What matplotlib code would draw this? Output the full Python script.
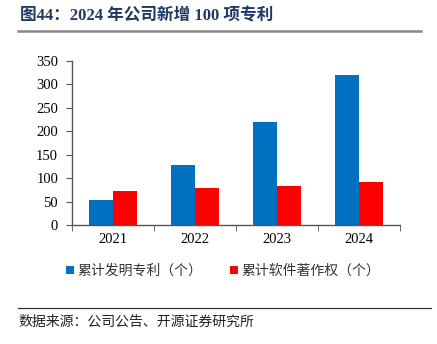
import matplotlib
matplotlib.use("Agg")
from matplotlib import pyplot as plt
from matplotlib.lines import Line2D
import numpy as np

years = ["2021", "2022", "2023", "2024"]
patents = [53, 128, 219, 320]
software = [73, 78, 83, 92]
series_names = ["累计发明专利（个）", "累计软件著作权（个）"]
title = "图44：2024 年公司新增 100 项专利"
source = "数据来源：公司公告、开源证券研究所"

cjk = ["Noto Sans CJK SC", "DejaVu Sans"]
serif = ["Liberation Serif", "Noto Sans CJK SC"]

fig = plt.figure(figsize=(4.37, 3.44), dpi=100)
W, H = 437, 344
ax = fig.add_axes([72 / W, 1 - 225 / H, (400 - 72) / W, (225 - 61) / H])

x = np.arange(len(years))
w = 0.29
b1 = ax.bar(x - w / 2, patents, w, color="#0070C0", label=series_names[0])
b2 = ax.bar(x + w / 2, software, w, color="#FF0000", label=series_names[1])

ax.set_xlim(-0.5, len(years) - 0.5)
ax.set_ylim(0, 350)
ax.set_yticks(np.arange(0, 351, 50))
ax.set_xticks(x)
ax.set_xticklabels(years)
ax.set_xticks(np.arange(-0.5, len(years)), minor=True)
ax.tick_params(axis="x", which="major", length=0, pad=6)
ax.tick_params(axis="x", which="minor", length=4, direction="out", color="#555555")
ax.tick_params(axis="y", length=4, direction="out", color="#555555", pad=6)
for lab in ax.get_xticklabels() + ax.get_yticklabels():
    lab.set_fontfamily(serif)
    lab.set_fontsize(10.5)
for s in ["top", "right"]:
    ax.spines[s].set_visible(False)
for s in ["left", "bottom"]:
    ax.spines[s].set_color("#555555")
    ax.spines[s].set_linewidth(1)

leg = fig.legend(handles=[b1, b2], loc="center", bbox_to_anchor=(223 / W, 1 - 271 / H),
                 ncol=2, frameon=False, prop={"family": cjk, "size": 10},
                 handlelength=0.55, handleheight=0.55, handletextpad=0.25, columnspacing=2.0)
for t in leg.get_texts():
    t.set_color("#333333")

fig.text(20 / W, 1 - 16 / H, title, fontsize=12, fontweight="bold", color="#1F3864",
         family=serif, va="center", ha="left")
fig.add_artist(Line2D([18 / W, 421 / W], [1 - 31 / H, 1 - 31 / H], color="#888888", lw=1.8))
fig.add_artist(Line2D([18 / W, 431 / W], [1 - 308 / H, 1 - 308 / H], color="#333333", lw=0.9))
fig.text(18 / W, 1 - 322 / H, source, fontsize=10, color="#222222",
         family=cjk, va="center", ha="left")

fig.savefig("out.png", dpi=100)
